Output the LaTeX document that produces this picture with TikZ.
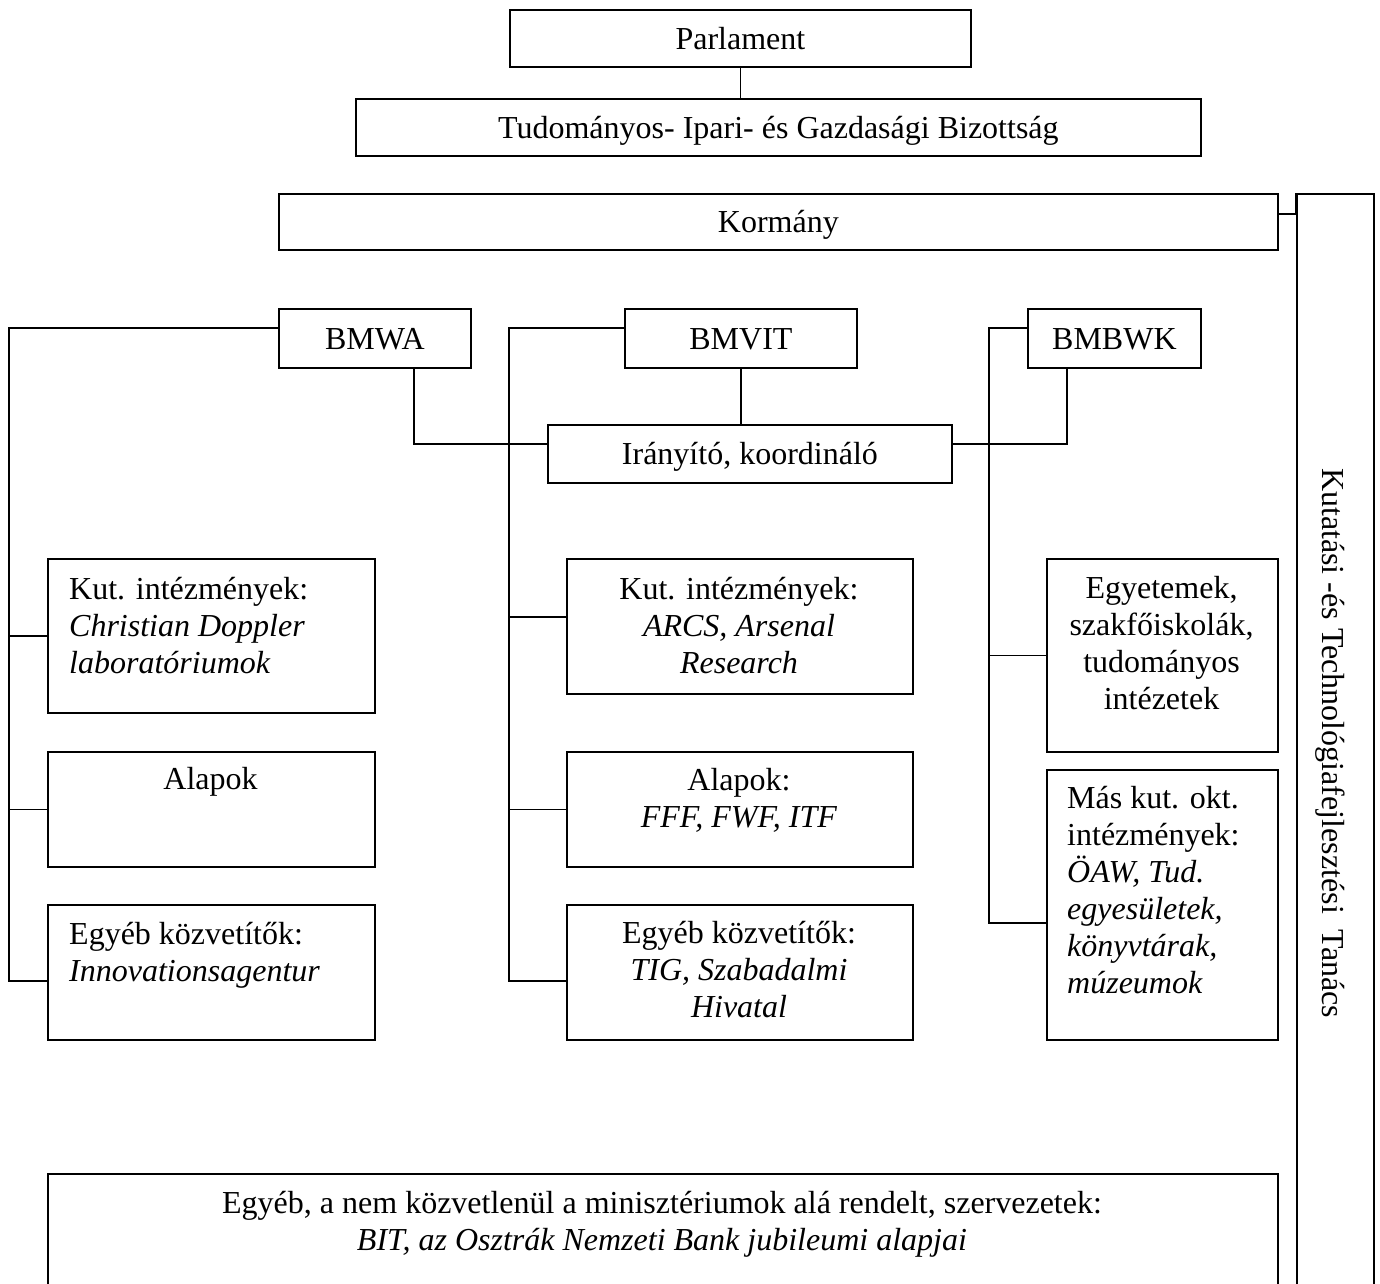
\documentclass[tikz,border=0pt]{standalone}
\usepackage{fontspec}
\setmainfont{Liberation Serif}
\newcommand\diafs{\fontsize{32}{37}\selectfont}
\tikzset{
  box/.style={draw, line width=1.8pt, inner sep=0pt, anchor=north west,
    text height=22pt, text depth=0pt, align=center, font=\diafs},
  conn/.style={line width=1.6pt},
  txt/.style={inner sep=0pt, font=\diafs},
}
\begin{document}
\begin{tikzpicture}[x=1pt,y=-1pt]
\useasboundingbox (0,0) rectangle (1380,1283);
\fill[white] (0,0) rectangle (1380,1283);
\clip (0,0) rectangle (1380,1283);

% boxes
\node[box, minimum width=461pt, minimum height=57pt] (parl) at (509,9) {Parlament};
\node[box, minimum width=845pt, minimum height=57pt] (biz) at (355,98) {Tudományos- Ipari- és Gazdasági Bizottság};
\node[box, minimum width=999pt, minimum height=56pt] (korm) at (278,193) {Kormány};
\node[box, minimum width=77pt, minimum height=1110pt] (tanacs) at (1296,193) {};
\node[box, minimum width=192pt, minimum height=59pt] (bmwa) at (278,308) {BMWA};
\node[box, minimum width=232pt, minimum height=59pt] (bmvit) at (624,308) {BMVIT};
\node[box, minimum width=173pt, minimum height=59pt] (bmbwk) at (1027,308) {BMBWK};
\node[box, minimum width=404pt, minimum height=58pt] (irany) at (547,424) {Irányító, koordináló};

\node[box, minimum width=327pt, minimum height=154pt] (lk) at (47,558) {};
\node[box, minimum width=327pt, minimum height=115pt] (la) at (47,751) {};
\node[box, minimum width=327pt, minimum height=135pt] (le) at (47,904) {};

\node[box, minimum width=346pt, minimum height=135pt] (mk) at (566,558) {};
\node[box, minimum width=346pt, minimum height=115pt] (ma) at (566,751) {};
\node[box, minimum width=346pt, minimum height=135pt] (me) at (566,904) {};

\node[box, minimum width=231pt, minimum height=193pt] (re) at (1046,558) {};
\node[box, minimum width=231pt, minimum height=270pt] (rm) at (1046,769) {};

\node[box, minimum width=1230pt, minimum height=140pt] (bot) at (47,1173) {};

% texts
\node[txt, anchor=north west, align=left] (lkT) at (69,573.1)
  {\strut Kut. intézmények:\\\textit{Christian Doppler}\\\textit{laboratóriumok}};
\node[txt, anchor=base] (laT) at (210.5,789) {Alapok};
\node[txt, anchor=north west, align=left] (leT) at (69,918.1)
  {\strut Egyéb közvetítők:\\\textit{Innovationsagentur}};

\node[txt, anchor=north, align=center] (mkT) at (739,573.1)
  {\strut Kut. intézmények:\\\textit{ARCS, Arsenal}\\\textit{Research}};
\node[txt, anchor=north, align=center] (maT) at (739,764.1)
  {\strut Alapok:\\\textit{FFF, FWF, ITF}};
\node[txt, anchor=north, align=center] (meT) at (739,917.1)
  {\strut Egyéb közvetítők:\\\textit{TIG, Szabadalmi}\\\textit{Hivatal}};

\node[txt, anchor=north, align=center] (reT) at (1161.5,572.1)
  {\strut Egyetemek,\\szakfőiskolák,\\tudományos\\intézetek};
\node[txt, anchor=north west, align=left] (rmT) at (1067,782.1)
  {\strut Más kut. okt.\\intézmények:\\\textit{ÖAW, Tud.}\\\textit{egyesületek,}\\\textit{könyvtárak,}\\\textit{múzeumok}};

\node[txt, anchor=north, align=center] (botT) at (662,1187.1)
  {\strut Egyéb, a nem közvetlenül a minisztériumok alá rendelt, szervezetek:\\\textit{BIT, az Osztrák Nemzeti Bank jubileumi alapjai}};

\node[txt, rotate=-90, anchor=base west] (tanacsT) at (1322,468)
  {Kutatási -és Technológiafejlesztési\ \ Tanács};

% connectors
\coordinate (lbend) at (9,981);
\coordinate (mbend) at (509,981);
\coordinate (rbend) at (989,923);

\draw[conn] (parl.south) -- (biz.north -| parl.south);
\draw[conn] ([yshift=8pt]korm.east) -| (tanacs.north west);

\draw[conn] ([yshift=-20pt]bmwa.north west) -| (lbend) -- (lbend -| le.west);
\draw[conn] (lk.west) -| (lbend);
\draw[conn] (la.west) -| (lbend);

\draw[conn] ([yshift=-20pt]bmvit.north west) -| (mbend) -- (mbend -| me.west);
\draw[conn] ([yshift=9.5pt]mk.west) -| (mbend);
\draw[conn] (ma.west) -| (mbend);

\draw[conn] ([yshift=-20pt]bmbwk.north west) -| (rbend) -- (rbend -| rm.west);
\draw[conn] (re.west) -| (rbend);

\draw[conn] ([xshift=39pt]bmwa.south) |- ([yshift=10pt]irany.west);
\draw[conn] (bmvit.south) -- (irany.north -| bmvit.south);
\draw[conn] ([xshift=-47.5pt]bmbwk.south) |- ([yshift=10pt]irany.east);
\end{tikzpicture}
\end{document}
